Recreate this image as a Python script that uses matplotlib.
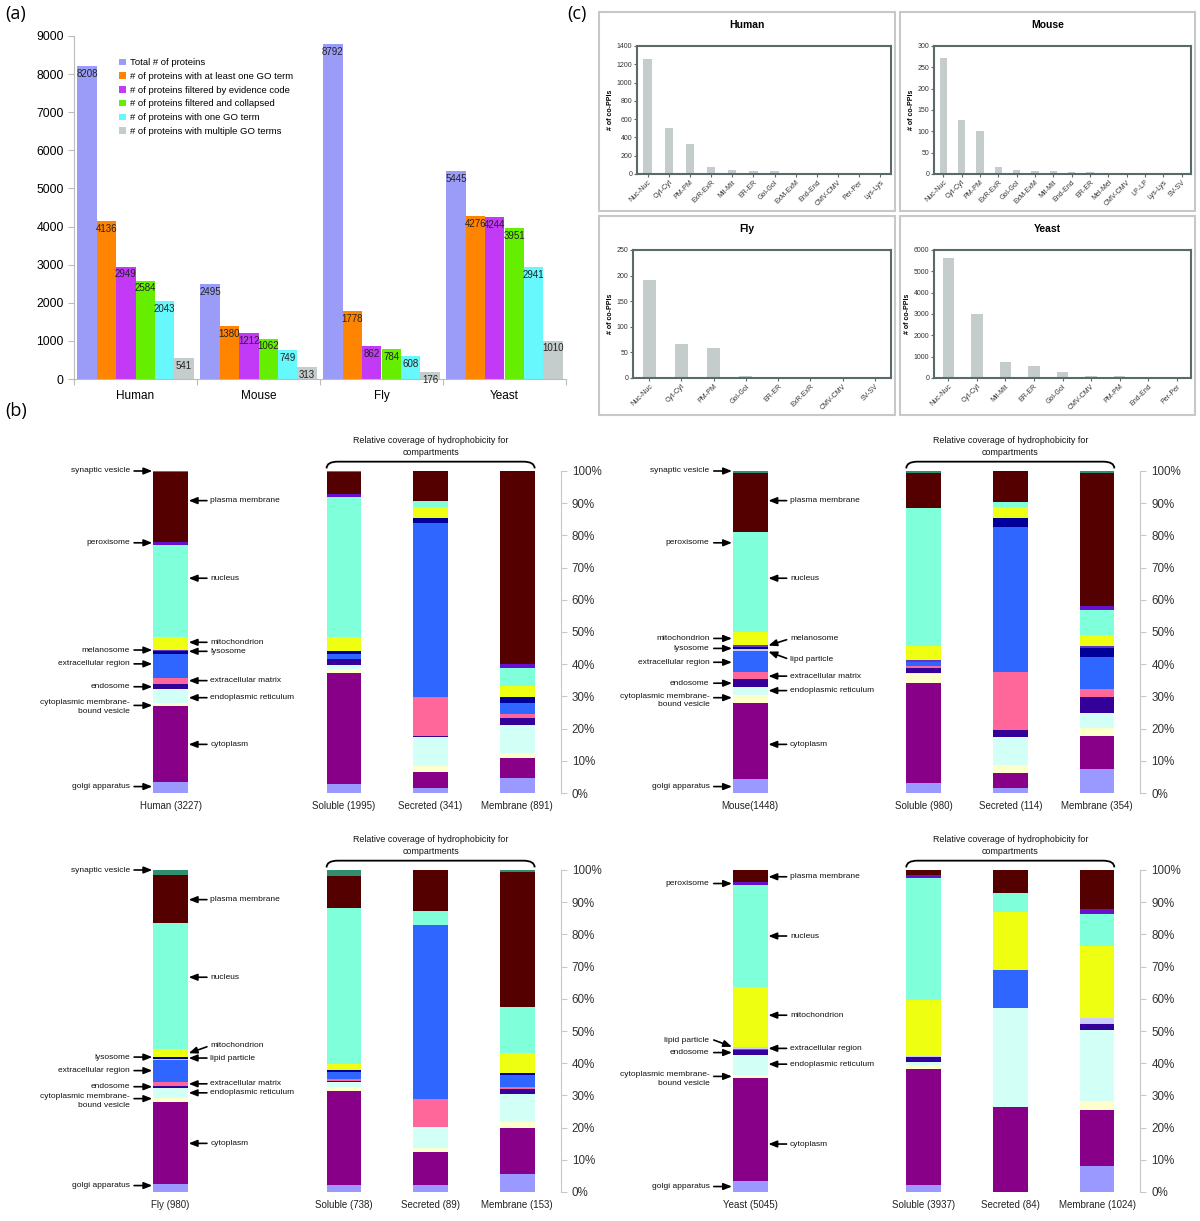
import numpy as np
import matplotlib
matplotlib.use("Agg")
import matplotlib.pyplot as plt
from matplotlib.patches import Rectangle, PathPatch
from matplotlib.path import Path

plt.rcParams['font.family'] = ['Liberation Sans', 'DejaVu Sans']

# ---------------- data: panel (a) ----------------
species = ["Human", "Mouse", "Fly", "Yeast"]
series_a = ["Total # of proteins",
            "# of proteins with at least one GO term",
            "# of proteins filtered by evidence code",
            "# of proteins filtered and collapsed",
            "# of proteins with one GO term",
            "# of proteins with multiple GO terms"]
total = [8208, 2495, 8792, 5445]
with_go = [4136, 1380, 1778, 4276]
by_evidence = [2949, 1212, 862, 4244]
collapsed = [2584, 1062, 784, 3951]
one_go = [2043, 749, 608, 2941]
multi_go = [541, 313, 176, 1010]
colors_a = ['#9a9cf8', '#ff8400', '#c23af6', '#66ee00', '#66f8fc', '#c4cccc']

# ---------------- data: panel (b) ----------------
compartments = ["golgi apparatus", "cytoplasm", "cytoplasmic membrane-bound vesicle",
                "endoplasmic reticulum", "endosome", "extracellular matrix",
                "extracellular region", "lipid particle", "lysosome", "melanosome",
                "mitochondrion", "nucleus", "peroxisome", "plasma membrane",
                "synaptic vesicle"]
comp_colors = ['#9999ff', '#880088', '#ffffcc', '#d2fff6', '#330099', '#ff6699',
               '#2f66ff', '#ccccff', '#000099', '#6633cc', '#eeff11', '#7fffda',
               '#6611cc', '#550000', '#2f8f6f']
groups = ["Soluble", "Secreted", "Membrane"]

# percent per compartment, same order as `compartments`
human_all = [3.3, 23.7, 1.0, 4.2, 1.7, 1.7, 7.6, 0, 0.8, 0.4, 4.1, 28.5, 0.8, 21.9, 0.3]
human_sol = [2.8, 34.6, 1.0, 1.4, 1.7, 0.2, 1.5, 0, 0.9, 0, 4.5, 43.4, 0.8, 6.9, 0.3]
human_sec = [1.7, 4.9, 1.8, 8.9, 0.5, 12.1, 54.1, 0, 1.5, 0, 3.2, 2.1, 0, 9.2, 0]
human_mem = [4.8, 6.0, 1.7, 8.6, 2.2, 1.2, 3.6, 0, 1.8, 0, 3.3, 5.5, 1.4, 59.9, 0]
human_n = [3227, 1995, 341, 891]

mouse_all = [4.2, 23.9, 2.3, 2.4, 2.5, 2.2, 6.7, 0.4, 0.6, 0.7, 4.1, 31.0, 0.1, 18.4, 0.5]
mouse_sol = [3.2, 30.9, 2.8, 0.5, 1.5, 0.5, 1.2, 0, 0, 0.7, 4.4, 42.9, 0, 10.9, 0.5]
mouse_sec = [1.7, 4.4, 2.6, 8.8, 2.1, 18.1, 45.0, 0, 2.6, 0, 3.4, 1.8, 0, 9.5, 0]
mouse_mem = [7.5, 10.3, 2.5, 4.6, 5.0, 2.3, 10.1, 0, 2.8, 0.6, 3.4, 7.7, 1.3, 41.4, 0.5]
mouse_n = [1448, 980, 114, 354]

fly_all = [2.6, 25.5, 1.2, 2.9, 0.7, 1.2, 6.9, 0.4, 0.4, 0, 2.5, 39.3, 0, 14.8, 1.6]
fly_sol = [2.1, 29.4, 1.2, 1.4, 0.5, 0.4, 2.4, 0, 0.5, 0, 1.9, 48.5, 0, 9.9, 1.8]
fly_sec = [2.1, 10.2, 1.3, 6.5, 0, 8.9, 53.9, 0, 0, 0, 0, 4.5, 0, 12.6, 0]
fly_mem = [5.7, 14.3, 1.8, 8.6, 1.5, 0.8, 3.6, 0, 0.8, 0, 6.2, 14.3, 0, 41.7, 0.7]
fly_n = [980, 738, 89, 153]

yeast_all = [3.3, 32.1, 0.9, 6.2, 1.7, 0, 0.3, 0.6, 0, 0, 18.5, 31.7, 1.1, 3.6, 0]
yeast_sol = [2.2, 36.0, 1.1, 1.1, 1.5, 0, 0, 0.3, 0, 0, 17.4, 38.0, 0.8, 1.6, 0]
yeast_sec = [0, 26.4, 0, 30.8, 0, 0, 11.7, 0, 0, 0, 18.1, 6.0, 0, 7.0, 0]
yeast_mem = [8.0, 17.6, 2.6, 22.0, 2.1, 0, 0, 1.8, 0, 0, 22.3, 10.0, 1.4, 12.2, 0]
yeast_n = [5045, 3937, 84, 1024]

# annotations: (text, text y, arrow tail y, arrow head y) in percent
cmbv = "cytoplasmic membrane-\nbound vesicle"
human_left = [("synaptic vesicle", 100, 100, 100), ("peroxisome", 77.7, 77.7, 77.7),
              ("melanosome", 44.4, 44.4, 44.4), ("extracellular region", 40.1, 40.1, 40.1),
              ("endosome", 33.0, 33.0, 33.0), (cmbv, 26.6, 27.2, 27.2),
              ("golgi apparatus", 2.0, 2.0, 2.0)]
human_right = [("plasma membrane", 90.8, 90.8, 90.8), ("nucleus", 66.7, 66.7, 66.7),
               ("mitochondrion", 46.8, 46.8, 46.8), ("lysosome", 44.0, 44.0, 44.0),
               ("extracellular matrix", 34.9, 34.9, 34.9),
               ("endoplasmic reticulum", 29.6, 29.6, 29.6), ("cytoplasm", 15.1, 15.1, 15.1)]
mouse_left = [("synaptic vesicle", 100, 100, 100), ("peroxisome", 77.7, 77.7, 77.7),
              ("mitochondrion", 48.0, 48.0, 48.0), ("lysosome", 44.9, 44.9, 44.9),
              ("extracellular region", 40.6, 40.6, 40.6), ("endosome", 34.1, 34.1, 34.1),
              (cmbv, 28.7, 29.6, 29.6), ("golgi apparatus", 2.0, 2.0, 2.0)]
mouse_right = [("plasma membrane", 90.8, 90.8, 90.8), ("nucleus", 66.7, 66.7, 66.7),
               ("melanosome", 47.9, 47.6, 45.8), ("lipd particle", 41.5, 41.8, 43.9),
               ("extracellular matrix", 36.3, 36.3, 36.3),
               ("endoplasmic reticulum", 31.8, 31.8, 31.8), ("cytoplasm", 15.1, 15.1, 15.1)]
fly_left = [("synaptic vesicle", 100, 100, 100), ("lysosome", 41.9, 41.9, 41.9),
            ("extracellular region", 37.7, 37.7, 37.7), ("endosome", 32.7, 32.7, 32.7),
            (cmbv, 28.3, 29.0, 29.0), ("golgi apparatus", 2.0, 2.0, 2.0)]
fly_right = [("plasma membrane", 90.8, 90.8, 90.8), ("nucleus", 66.7, 66.7, 66.7),
             ("mitochondrion", 45.5, 45.1, 43.1), ("lipid particle", 41.6, 41.6, 41.6),
             ("extracellular matrix", 33.6, 33.6, 33.6),
             ("endoplasmic reticulum", 30.8, 30.8, 30.8), ("cytoplasm", 15.1, 15.1, 15.1)]
yeast_left = [("peroxisome", 95.8, 95.8, 95.8), ("lipid particle", 47.0, 47.2, 45.1),
              ("endosome", 43.3, 43.3, 43.3), (cmbv, 35.2, 35.9, 35.9),
              ("golgi apparatus", 1.7, 1.7, 1.7)]
yeast_right = [("plasma membrane", 97.9, 97.9, 97.9), ("nucleus", 79.5, 79.5, 79.5),
               ("mitochondrion", 54.9, 54.9, 54.9), ("extracellular region", 44.6, 44.6, 44.6),
               ("endoplasmic reticulum", 39.7, 39.7, 39.7), ("cytoplasm", 14.9, 14.9, 14.9)]

# ---------------- data: panel (c) ----------------
human_pairs = ["Nuc-Nuc", "Cyt-Cyt", "PM-PM", "ExR-ExR", "Mit-Mit", "ER-ER", "Gol-Gol",
               "ExM-ExM", "End-End", "CMV-CMV", "Per-Per", "Lys-Lys"]
human_ppi = [1255, 500, 330, 75, 40, 32, 28, 10, 8, 6, 5, 3]
mouse_pairs = ["Nuc-Nuc", "Cyt-Cyt", "PM-PM", "ExR-ExR", "Gol-Gol", "ExM-ExM", "Mit-Mit",
               "End-End", "ER-ER", "Mel-Mel", "CMV-CMV", "LP-LP", "Lys-Lys", "SV-SV"]
mouse_ppi = [272, 126, 101, 17, 9, 8, 6, 5, 4, 2, 2, 1, 1, 1]
fly_pairs = ["Nuc-Nuc", "Cyt-Cyt", "PM-PM", "Gol-Gol", "ER-ER", "ExR-ExR", "CMV-CMV", "SV-SV"]
fly_ppi = [191, 66, 59, 4, 2, 2, 1, 1]
yeast_pairs = ["Nuc-Nuc", "Cyt-Cyt", "Mit-Mit", "ER-ER", "Gol-Gol", "CMV-CMV", "PM-PM",
               "End-End", "Per-Per"]
yeast_ppi = [5630, 2980, 750, 560, 270, 90, 80, 25, 30]

W, H = 1200, 1221
fig = plt.figure(figsize=(12, 12.21), dpi=100)


def px_axes(x0, y0, x1, y1):
    return fig.add_axes([x0 / W, 1 - y1 / H, (x1 - x0) / W, (y1 - y0) / H])


# ================= panel (a) =================
ax = px_axes(74, 36, 566, 379)
vals_a = np.array([total, with_go, by_evidence, collapsed, one_go, multi_go])
bw = 0.158
for j in range(len(series_a)):
    xs = np.arange(4) + 0.5 + (j - 2.5) * bw
    ax.bar(xs, vals_a[j], width=bw, color=colors_a[j], label=series_a[j], linewidth=0)
    for x, v in zip(xs, vals_a[j]):
        ax.annotate(str(v), (x, v), xytext=(0, -2), textcoords='offset points',
                    ha='center', va='top', fontsize=7, color='#222222')
ax.set_xlim(0, 4)
ax.set_ylim(0, 9000)
ax.set_yticks(range(0, 9001, 1000))
ax.set_xticks([0, 1, 2, 3, 4])
ax.set_xticklabels([])
ax.set_xticks(np.arange(4) + 0.5, species, minor=True)
ax.tick_params(axis='x', which='major', length=4, color='#bbbbbb')
ax.tick_params(axis='x', which='minor', length=0, pad=8, labelsize=8.5)
ax.tick_params(axis='y', length=4, color='#bbbbbb', labelsize=8.7)
for s in ['top', 'right']:
    ax.spines[s].set_visible(False)
for s in ['left', 'bottom']:
    ax.spines[s].set_color('#bbbbbb')
ax.legend(loc='upper left', bbox_to_anchor=(0.092, 0.935), frameon=False, fontsize=6.8,
          handlelength=0.7, handleheight=0.7, handletextpad=0.4, labelspacing=0.5,
          borderpad=0, borderaxespad=0)


# ================= panel (b) =================
def draw_note(ax, side, note):
    text, ty, tail, head = note
    if side == 'left':
        x_tail, x_head, x_text, ha = -0.42, -0.21, -0.47, 'right'
    else:
        x_tail, x_head, x_text, ha = 0.42, 0.21, 0.46, 'left'
    ax.annotate('', xy=(x_head, head), xytext=(x_tail, tail),
                arrowprops=dict(arrowstyle='-|>,head_length=0.5,head_width=0.2',
                                lw=1.2, color='black', shrinkA=0, shrinkB=0),
                annotation_clip=False)
    ax.text(x_text, ty, text, ha=ha, va='center', fontsize=6, multialignment=ha,
            linespacing=1.35, color='#111111')


def b_panel(cx0, ytop, ybot, name, bars, counts, left_notes, right_notes):
    unit = 86.7
    ax = px_axes(cx0 - 1.6 * unit, ytop, cx0 + 4.5 * unit, ybot)
    ax.set_xlim(-1.6, 4.5)
    ax.set_ylim(0, 100)
    data = np.array(bars)
    xs = [0, 2, 3, 4]
    bottom = np.zeros(4)
    for k, c in enumerate(comp_colors):
        ax.bar(xs, data[:, k], bottom=bottom, width=0.4, color=c, linewidth=0)
        bottom += data[:, k]
    labels = [f"{name} ({counts[0]})" if name != "Mouse" else f"Mouse({counts[0]})"]
    labels += [f"{g} ({n})" for g, n in zip(groups, counts[1:])]
    ax.set_xticks(xs, labels)
    ax.tick_params(axis='x', length=0, pad=6, labelsize=7, labelcolor='#222222')
    ax.yaxis.tick_right()
    ax.set_yticks(range(0, 101, 10), [f"{v}%" for v in range(0, 101, 10)])
    ax.tick_params(axis='y', length=4, color='#c8c8c8', labelsize=8.4,
                   labelcolor='#333333', pad=4)
    for s in ['top', 'left', 'bottom']:
        ax.spines[s].set_visible(False)
    ax.spines['right'].set_color('#c8c8c8')
    # brace over the three hydrophobicity bars
    verts = [(1.8, 100.8), (1.8, 102.9), (1.93, 102.9), (4.07, 102.9),
             (4.2, 102.9), (4.2, 100.8)]
    codes = [Path.MOVETO, Path.CURVE3, Path.CURVE3, Path.LINETO, Path.CURVE3, Path.CURVE3]
    ax.add_patch(PathPatch(Path(verts, codes), fill=False, lw=1.3, color='black',
                           clip_on=False))
    ax.text(3.0, 107.6, "Relative coverage of hydrophobicity for\ncompartments",
            ha='center', va='center', fontsize=6.4, linespacing=1.35, color='#111111')
    for note in left_notes:
        draw_note(ax, 'left', note)
    for note in right_notes:
        draw_note(ax, 'right', note)


b_panel(170.5, 471, 793, "Human", [human_all, human_sol, human_sec, human_mem],
        human_n, human_left, human_right)
b_panel(750.2, 471, 793, "Mouse", [mouse_all, mouse_sol, mouse_sec, mouse_mem],
        mouse_n, mouse_left, mouse_right)
b_panel(170.5, 870, 1192, "Fly", [fly_all, fly_sol, fly_sec, fly_mem],
        fly_n, fly_left, fly_right)
b_panel(750.2, 870, 1192, "Yeast", [yeast_all, yeast_sol, yeast_sec, yeast_mem],
        yeast_n, yeast_left, yeast_right)


# ================= panel (c) =================
def c_panel(frame, plot, title, cats, vals, ymax, ystep):
    fx0, fy0, fx1, fy1 = frame
    fig.patches.append(Rectangle((fx0 / W, 1 - fy1 / H), (fx1 - fx0) / W, (fy1 - fy0) / H,
                                 transform=fig.transFigure, fill=False,
                                 ec='#c8c8c8', lw=1.5))
    fig.text((fx0 + fx1) / 2 / W, 1 - (fy0 + 12.5) / H, title, ha='center', va='center',
             fontsize=7.5, fontweight='bold')
    ax = px_axes(*plot)
    ax.bar(range(len(cats)), vals, width=0.4, color='#c4cccc', linewidth=0)
    ax.set_xlim(-0.5, len(cats) - 0.5)
    ax.set_ylim(0, ymax)
    ax.set_yticks(range(0, ymax + 1, ystep))
    ax.set_xticks(range(len(cats)), cats, rotation=45, ha='right', rotation_mode='anchor')
    ax.tick_params(axis='x', length=2, labelsize=5, labelcolor='#333333', pad=1.5,
                   color='#5a6a6a')
    ax.tick_params(axis='y', length=2, labelsize=5, labelcolor='#333333', pad=1.5,
                   color='#5a6a6a')
    for s in ax.spines.values():
        s.set_color('#5a6a6a')
        s.set_linewidth(1.5)
    ax.set_ylabel("# of co-PPIs", fontsize=5, fontweight='bold', labelpad=2)


c_panel((599, 12, 895, 211), (637, 46, 891, 174), "Human", human_pairs, human_ppi, 1400, 200)
c_panel((900, 12, 1195, 211), (934, 46, 1191, 174), "Mouse", mouse_pairs, mouse_ppi, 300, 50)
c_panel((599, 216, 895, 415), (633, 250, 891, 378), "Fly", fly_pairs, fly_ppi, 250, 50)
c_panel((900, 216, 1195, 415), (934, 250, 1191, 378), "Yeast", yeast_pairs, yeast_ppi, 6000, 1000)

# panel letters
for lab, x, y in [("(a)", 5, 14), ("(b)", 5, 411), ("(c)", 567, 14)]:
    fig.text(x / W, 1 - y / H, lab, fontsize=13, va='center', ha='left',
             family=['Open Sans', 'DejaVu Sans'])

fig.savefig("out.png", dpi=100)
